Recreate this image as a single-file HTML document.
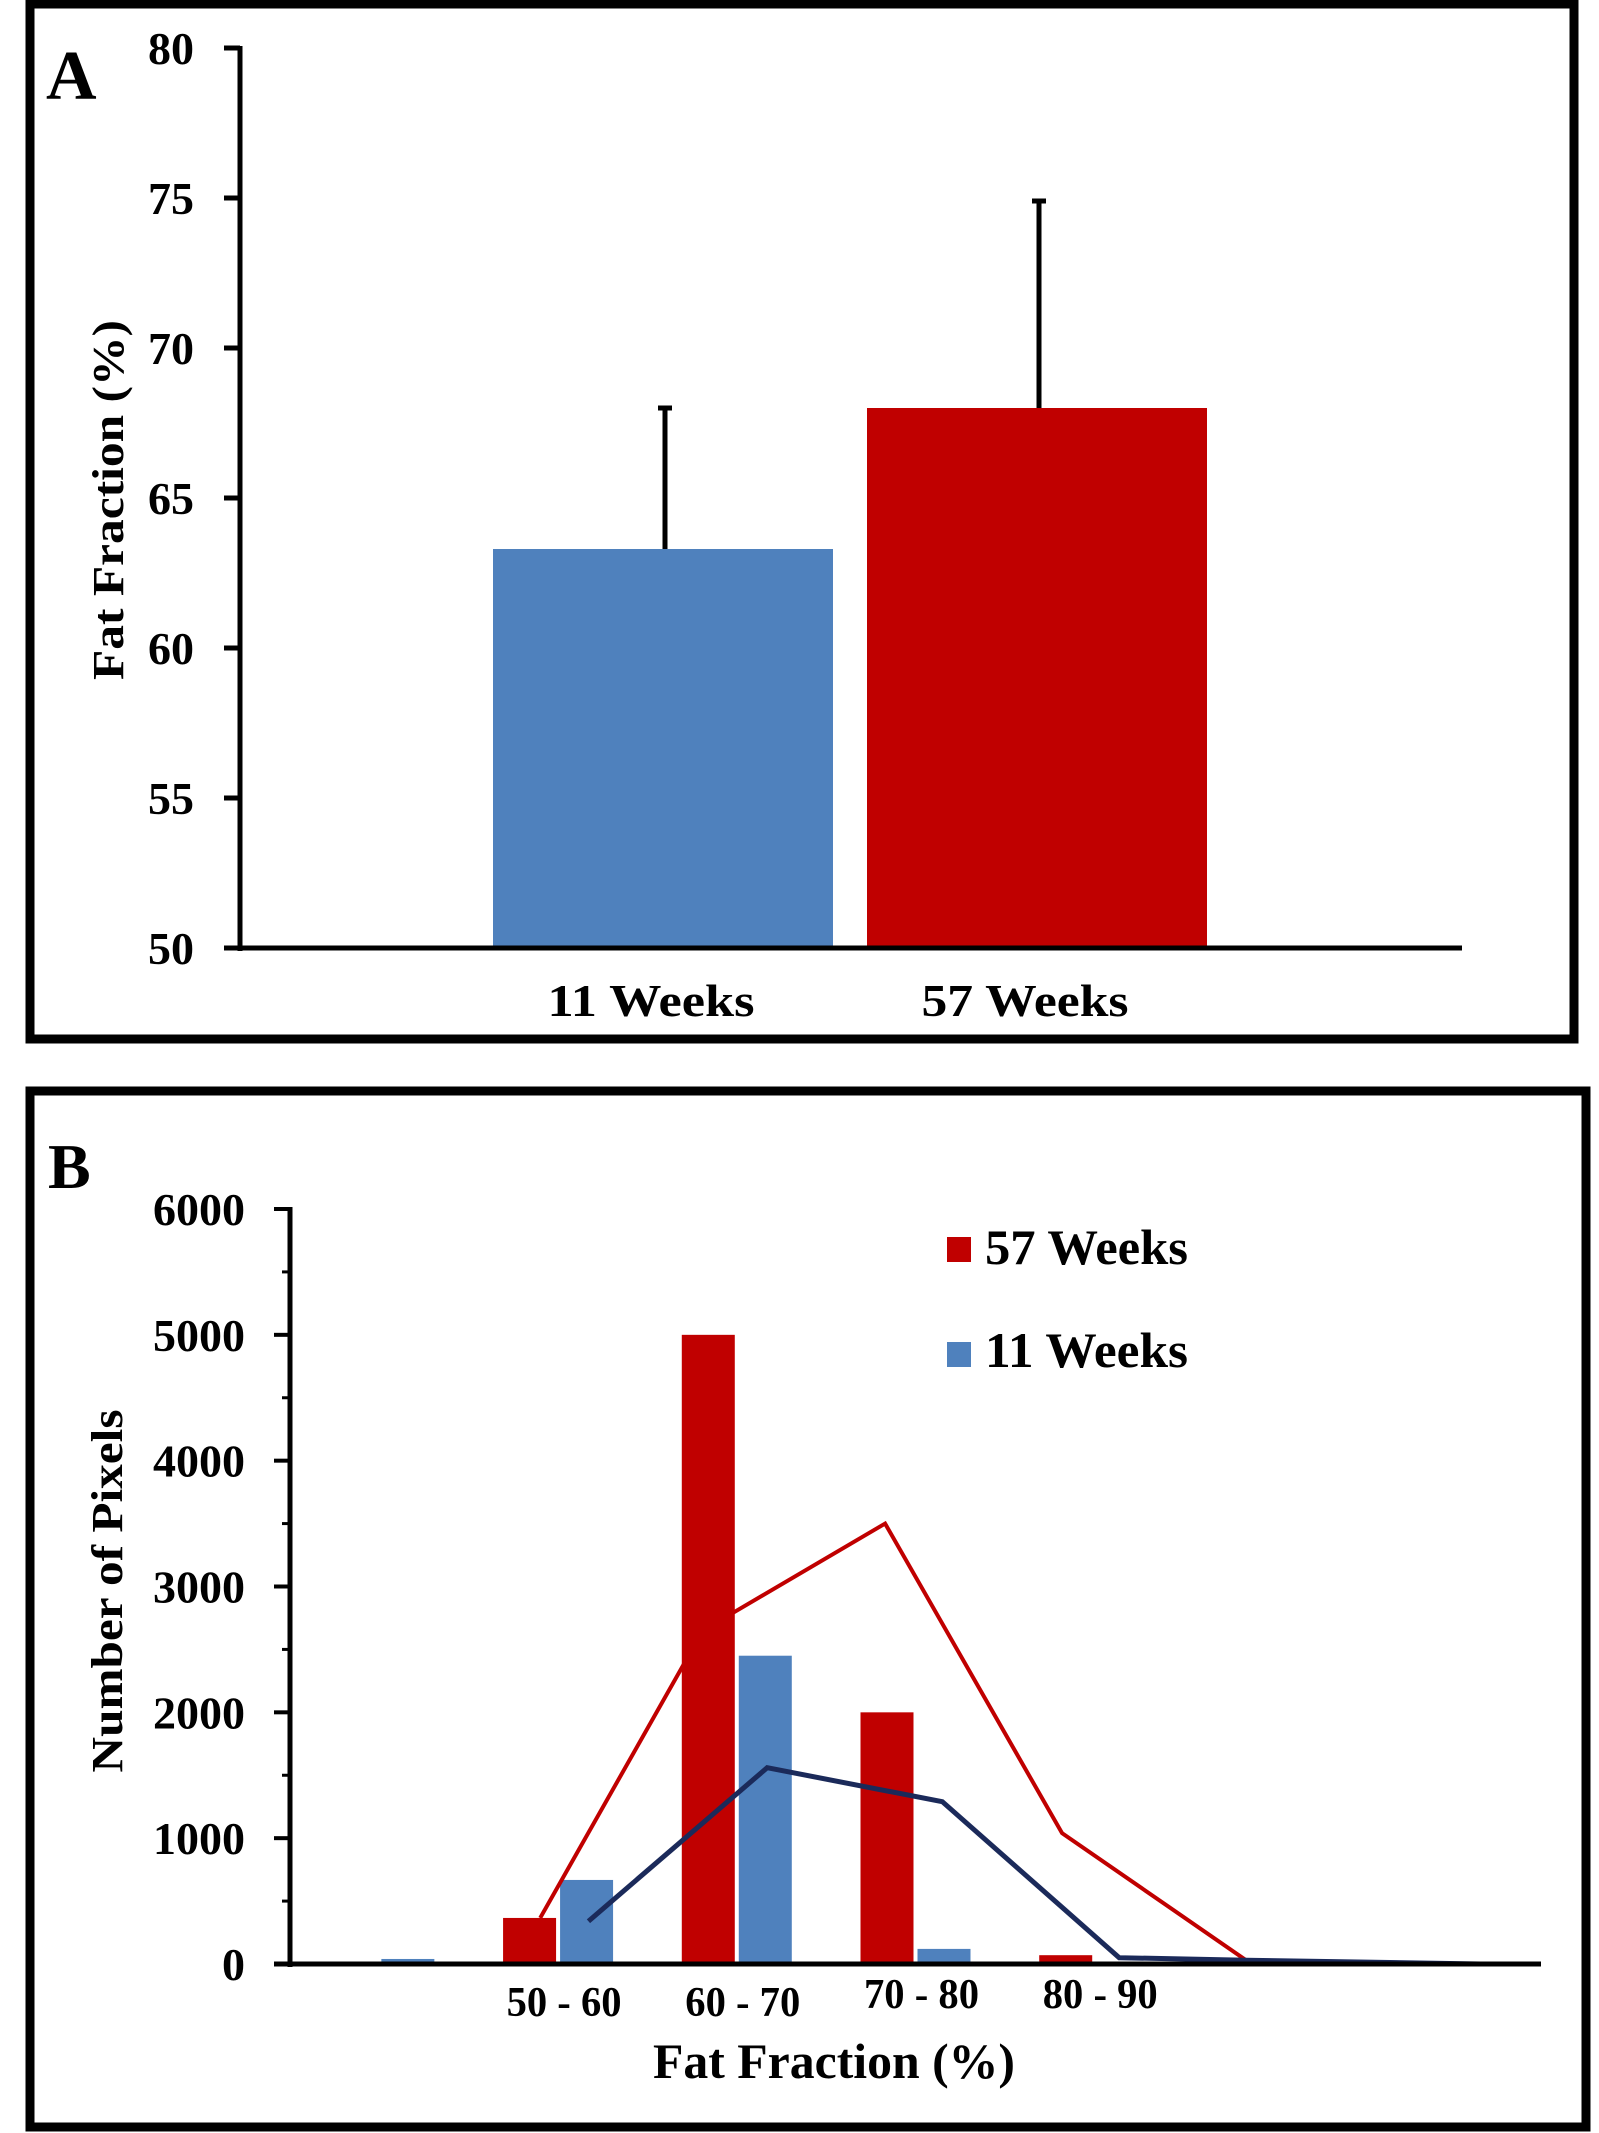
<!DOCTYPE html>
<html><head><meta charset="utf-8"><style>
html,body{margin:0;padding:0;background:#fff;}
svg{display:block;font-family:"Liberation Serif",serif;font-weight:bold;}
</style></head><body>
<svg id="fig" width="1599" height="2133" viewBox="0 0 1599 2133">
  <rect x="30" y="4" width="1544" height="1035" fill="none" stroke="#000" stroke-width="9"/>
  <rect x="30" y="1091" width="1556" height="1036" fill="none" stroke="#000" stroke-width="9"/>
  <text x="46" y="99" font-size="70">A</text>
  <text x="48" y="1188" font-size="64">B</text>
  <g id="chartA"></g>
  <g id="chartB"></g>
</svg>
<script>
// ---- Panel A data ----
const aCategories = ["11 Weeks", "57 Weeks"];
const aMeans = [63.3, 68.0];
const aErrors = [4.7, 6.9];
const aTicks = [50, 55, 60, 65, 70, 75, 80];
// ---- Panel B data ----
const bCategories = ["", "50 - 60", "60 - 70", "70 - 80", "80 - 90", "", ""];
const b57 = [0, 366, 5000, 2000, 70, 0, 0];
const b11 = [40, 668, 2450, 120, 10, 0, 0];
const bLine57X = [0.9, 1.81, 2.83, 3.82, 4.85, 6.16];
const bLine57Y = [366, 2650, 3500, 1040, 30, 0];
const bLine11X = [1.17, 2.17, 3.15, 4.14, 4.85, 6.16];
const bLine11Y = [340, 1560, 1290, 50, 30, 0];
const bTicks = [0, 1000, 2000, 3000, 4000, 5000, 6000];

const NS = "http://www.w3.org/2000/svg";
function mk(parent, tag, attrs, txt) {
  const e = document.createElementNS(NS, tag);
  for (const k in attrs) e.setAttribute(k, attrs[k]);
  if (txt !== undefined) e.textContent = txt;
  parent.appendChild(e);
  return e;
}

// ---------- Panel A ----------
(function () {
  const g = document.getElementById("chartA");
  const x0 = 240, x1 = 1462, yTop = 48, yBot = 948;
  const y = v => yBot - (v - 50) / 30 * (yBot - yTop);
  const colors = ["#4f81bd", "#c00000"];
  const centers = [663, 1037];
  const bw = 340;
  aMeans.forEach((m, i) => {
    const r = mk(g, "rect", {x: centers[i] - bw / 2, y: y(m), width: bw, height: yBot - y(m), fill: colors[i]});
    
    
    const cx = centers[i] + 2;
    const l = mk(g, "line", {x1: cx, x2: cx, y1: y(m), y2: y(m + aErrors[i]), stroke: "#000", "stroke-width": 5});
    
    
    const c = mk(g, "line", {x1: cx - 7, x2: cx + 7, y1: y(m + aErrors[i]), y2: y(m + aErrors[i]), stroke: "#000", "stroke-width": 5});
    
    
    const t = mk(g, "text", {x: centers[i] - 12, y: 1016, "font-size": 46, "text-anchor": "middle", textLength: 207, lengthAdjust: "spacingAndGlyphs"}, aCategories[i]);
    
    
  });
  const ax = mk(g, "line", {x1: x0, x2: x0, y1: yTop - 2, y2: yBot + 3, stroke: "#000", "stroke-width": 5});
  
  
  const bx = mk(g, "line", {x1: 224, x2: x1, y1: yBot, y2: yBot, stroke: "#000", "stroke-width": 5});
  
  
  aTicks.forEach(v => {
    const tk = mk(g, "line", {x1: 224, x2: x0, y1: y(v), y2: y(v), stroke: "#000", "stroke-width": 5});
    
    
    const tl = mk(g, "text", {x: 194, y: y(v) + 16, "font-size": 46, "text-anchor": "end"}, String(v));
    
    
  });
  const yt = mk(g, "text", {x: 0, y: 0, "font-size": 44, "text-anchor": "middle", textLength: 360, lengthAdjust: "spacingAndGlyphs", transform: "translate(123,500) rotate(-90)"}, "Fat Fraction  (%)");
  
  
})();

// ---------- Panel B ----------
(function () {
  const g = document.getElementById("chartB");
  const x0 = 290, x1 = 1541, yTop = 1209, yBot = 1964;
  const y = v => yBot - v / 6000 * (yBot - yTop);
  const step = (x1 - x0) / bCategories.length;
  const cx = i => x0 + step * (i + 0.5);
  const bw = 53;
  bCategories.forEach((c, i) => {
    const r = mk(g, "rect", {x: cx(i) - bw - 2, y: y(b57[i]), width: bw, height: yBot - y(b57[i]), fill: "#c00000"});
    
    
    const b = mk(g, "rect", {x: cx(i) + 2, y: y(b11[i]), width: bw, height: yBot - y(b11[i]), fill: "#4f81bd"});
    
    
    if (c) {
      const t = mk(g, "text", {x: cx(i) + 6, y: (i <= 2 ? 2016 : 2008), "font-size": 42, "text-anchor": "middle", textLength: 115, lengthAdjust: "spacingAndGlyphs"}, c);
      
      
    }
  });
  const lx = v => cx(v);
  const p57 = bLine57X.map((v, i) => lx(v) + "," + y(bLine57Y[i])).join(" ");
  const l57 = mk(g, "polyline", {points: p57, fill: "none", stroke: "#c00000", "stroke-width": 4, "stroke-linejoin": "miter"});
  
  
  const p11 = bLine11X.map((v, i) => lx(v) + "," + y(bLine11Y[i])).join(" ");
  const l11 = mk(g, "polyline", {points: p11, fill: "none", stroke: "#1b2a5a", "stroke-width": 5, "stroke-linejoin": "miter"});
  
  
  const ax = mk(g, "line", {x1: x0, x2: x0, y1: yTop - 2, y2: yBot + 3, stroke: "#000", "stroke-width": 5});
  
  
  const bx = mk(g, "line", {x1: 274, x2: x1, y1: yBot, y2: yBot, stroke: "#000", "stroke-width": 5});
  
  
  bTicks.forEach(v => {
    const tk = mk(g, "line", {x1: 274, x2: x0, y1: y(v), y2: y(v), stroke: "#000", "stroke-width": 4});
    
    
    if (v < 6000) {
      const mt = mk(g, "line", {x1: 282, x2: x0, y1: y(v + 500), y2: y(v + 500), stroke: "#000", "stroke-width": 3});
      
      
    }
    const tl = mk(g, "text", {x: 245, y: y(v) + 16, "font-size": 46, "text-anchor": "end"}, String(v));
    
    
  });
  const yt = mk(g, "text", {x: 0, y: 0, "font-size": 44, "text-anchor": "middle", textLength: 363, lengthAdjust: "spacingAndGlyphs", transform: "translate(122,1591) rotate(-90)"}, "Number  of Pixels");
  
  
  const xt = mk(g, "text", {x: 834, y: 2078, "font-size": 50, "text-anchor": "middle", textLength: 362, lengthAdjust: "spacingAndGlyphs"}, "Fat Fraction  (%)");
  
  
  // legend
  const ls1 = mk(g, "rect", {x: 947, y: 1237, width: 24, height: 25, fill: "#c00000"});
  
  
  const lt1 = mk(g, "text", {x: 985, y: 1264, "font-size": 50, textLength: 203, lengthAdjust: "spacingAndGlyphs"}, "57 Weeks");
  
  
  const ls2 = mk(g, "rect", {x: 947, y: 1342, width: 24, height: 25, fill: "#4f81bd"});
  
  
  const lt2 = mk(g, "text", {x: 985, y: 1367, "font-size": 50, textLength: 203, lengthAdjust: "spacingAndGlyphs"}, "11 Weeks");
  
  
})();
</script>
</body></html>
